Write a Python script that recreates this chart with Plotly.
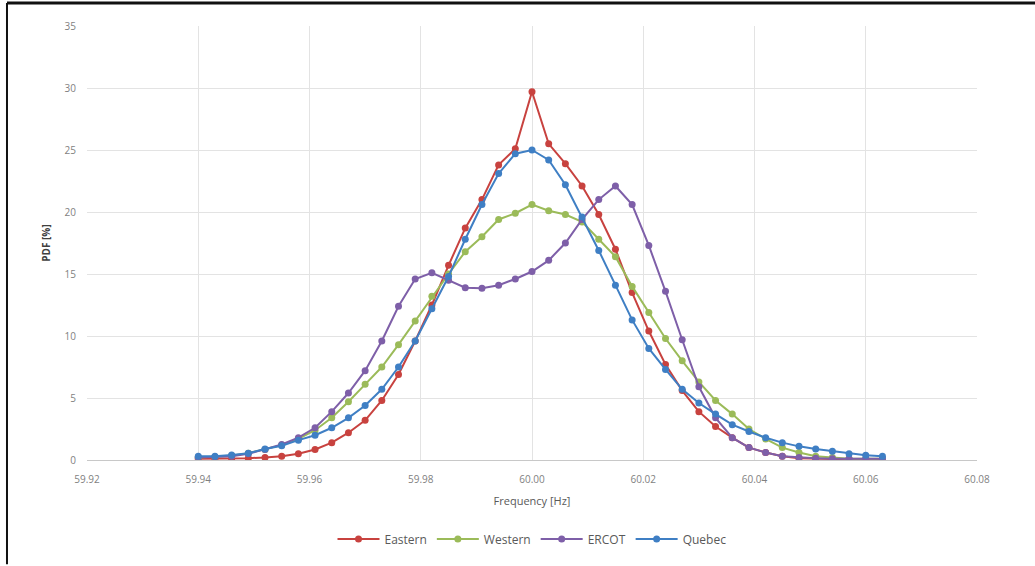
import plotly.graph_objects as go

freq = [round(59.94 + 0.003 * i, 3) for i in range(42)]

eastern = [0.1, 0.1, 0.1, 0.15, 0.2, 0.3, 0.5, 0.85, 1.4, 2.2, 3.2, 4.8, 6.9,
           9.6, 12.5, 15.7, 18.7, 21.0, 23.8, 25.1, 29.7, 25.5, 23.9, 22.1, 19.8, 17.0, 13.5, 10.4, 7.7, 5.6,
           3.9, 2.7, 1.8, 1.0, 0.6, 0.3, 0.15, 0.1, 0.05, 0.05, 0.05, 0.05]
western = [0.2, 0.25, 0.35, 0.55, 0.85, 1.2, 1.7, 2.4, 3.4, 4.7, 6.1, 7.5, 9.3,
           11.2, 13.2, 15.0, 16.8, 18.0, 19.4, 19.9, 20.6, 20.1, 19.8, 19.2, 17.8, 16.4, 14.0, 11.9, 9.8, 8.0,
           6.3, 4.8, 3.7, 2.5, 1.7, 1.0, 0.6, 0.3, 0.2, 0.1, 0.1, 0.1]
ercot = [0.2, 0.25, 0.3, 0.5, 0.85, 1.25, 1.8, 2.6, 3.9, 5.4, 7.2, 9.6, 12.4,
         14.6, 15.1, 14.5, 13.9, 13.85, 14.1, 14.6, 15.2, 16.1, 17.5, 19.4, 21.0, 22.1, 20.6, 17.3, 13.6, 9.7,
         5.9, 3.4, 1.8, 1.0, 0.6, 0.3, 0.2, 0.15, 0.1, 0.1, 0.1, 0.1]
quebec = [0.3, 0.3, 0.4, 0.55, 0.88, 1.15, 1.6, 2.0, 2.6, 3.4, 4.4, 5.7, 7.5,
          9.6, 12.2, 14.8, 17.8, 20.6, 23.1, 24.7, 25.0, 24.2, 22.2, 19.6, 16.9, 14.1, 11.3, 9.0, 7.3, 5.7,
          4.6, 3.7, 2.85, 2.3, 1.8, 1.4, 1.1, 0.88, 0.7, 0.5, 0.38, 0.3]

series_names = ["Eastern", "Western", "ERCOT", "Quebec"]
series_values = [eastern, western, ercot, quebec]
colors = ["#C8423F", "#9BBB59", "#7E5FA8", "#3F7FC4"]

x_tickvals = [59.92, 59.94, 59.96, 59.98, 60.00, 60.02, 60.04, 60.06, 60.08]
x_ticktext = ["59.92", "59.94", "59.96", "59.98", "60.00", "60.02", "60.04", "60.06", "60.08"]

fig = go.Figure()
for name, vals, col in zip(series_names, series_values, colors):
    fig.add_trace(go.Scatter(
        x=freq, y=vals, name=name, mode="lines+markers",
        line=dict(color=col, width=2),
        marker=dict(color=col, size=7, symbol="circle"),
    ))

fig.update_layout(
    width=1035, height=566,
    margin=dict(l=87, r=58, t=26, b=104),
    paper_bgcolor="white", plot_bgcolor="white",
    font=dict(family="Open Sans, Liberation Sans, sans-serif", color="#7F7F7F", size=10),
    showlegend=True,
    legend=dict(orientation="h", x=0.50, xanchor="center", y=-0.182, yanchor="middle",
                font=dict(size=12, color="#595959"), itemwidth=42, tracegroupgap=0),
    xaxis=dict(
        range=[59.92, 60.08], tickmode="array",
        tickvals=x_tickvals, ticktext=x_ticktext,
        showgrid=True, gridcolor="#E3E3E3", gridwidth=1,
        zeroline=False, showline=False, ticks="",
        ticklabelstandoff=12,
        tickfont=dict(size=10, color="#7F7F7F"),
        title=dict(text="Frequency [Hz]", font=dict(size=11, color="#595959"), standoff=12),
    ),
    yaxis=dict(
        range=[0, 35], tickmode="linear", tick0=0, dtick=5,
        showgrid=True, gridcolor="#E3E3E3", gridwidth=1,
        zeroline=True, zerolinecolor="#C8C8C8", zerolinewidth=1,
        showline=False, ticks="",
        ticklabelstandoff=10,
        tickfont=dict(size=10, color="#7F7F7F"),
        title=dict(text="<b>PDF [%]</b>", font=dict(size=10, color="#404040"), standoff=12),
    ),
    shapes=[
        dict(type="line", xref="paper", yref="paper", x0=-0.0899, x1=1.07, y0=1.0528, y1=1.0528,
             line=dict(color="#111111", width=3)),
        dict(type="line", xref="paper", yref="paper", x0=-0.0899, x1=-0.0899, y0=1.0528, y1=-0.24,
             line=dict(color="#111111", width=2)),
    ],
)

fig.write_html("out.html")
